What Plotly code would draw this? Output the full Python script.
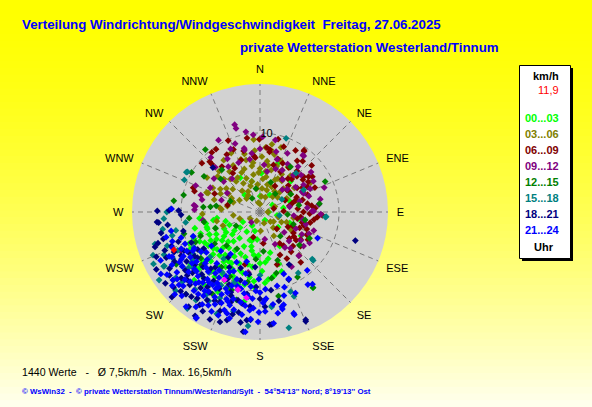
#!/usr/bin/env python
import plotly.graph_objects as go

W, H = 592, 407

# wind direction (deg, 0 = N, clockwise) and speed (km/h) per time band
pts_00_03 = [(240, 7.2), (238, 6.5), (236, 5.5), (234, 4.0), (232, 3.2), (149, 1.2), (223, 10.9), (220, 9.8),
             (217, 8.6), (213, 7.4), (210, 6.5), (205, 5.8), (192, 5.0), (208, 11.4), (204, 10.5), (200, 9.2),
             (196, 8.0), (192, 9.4), (188, 7.0), (90, 1.1), (166, 5.3), (173, 8.6), (145, 11.7), (2, 4.9),
             (101, 2.2), (264, 7.7), (252, 7.0), (250, 6.0), (245, 5.0), (174, 6.4), (190, 11.5), (176, 9.0),
             (168, 8.3), (228, 8.0), (226, 6.5), (222, 5.0), (218, 4.2), (214, 3.0), (230, 9.5), (244, 8.5),
             (248, 9.0), (246, 7.0), (242, 10.0), (236, 9.0), (232, 7.5), (227, 10.5), (224, 12.0), (215, 10.0),
             (211, 9.2), (206, 8.0), (202, 7.0), (198, 6.0), (194, 4.5), (186, 3.5), (182, 5.5), (178, 7.5),
             (260, 6.0), (256, 8.5), (255, 4.5), (240, 2.5), (318, 2.9), (0, 2.0), (30, 2.5), (60, 1.8),
             (80, 3.0), (110, 4.0), (130, 3.0), (150, 5.0), (160, 7.0), (120, 6.0), (100, 5.0), (70, 4.0),
             (45, 5.5), (20, 6.5), (345, 4.0), (330, 5.0), (210, 2.0), (195, 2.5), (200, 3.8), (185, 8.8),
             (219, 7.0), (233, 11.0), (241, 8.0), (239, 5.0), (237, 7.8), (235, 8.6), (233, 6.0), (231, 4.5),
             (229, 7.2), (225, 8.8), (223, 7.5), (221, 6.0), (219, 9.6), (216, 7.8), (212, 8.2), (209, 7.4),
             (207, 9.8), (203, 8.8), (201, 10.5), (199, 7.8), (197, 9.6), (193, 6.8), (189, 8.4), (184, 9.6),
             (180, 6.5), (246, 9.8), (250, 8.0), (254, 7.0), (243, 6.2), (227, 5.5), (213, 5.8), (205, 4.8),
             (196, 3.8), (188, 5.5), (230, 10.8), (218, 11.6), (211, 10.6), (247, 4.2), (258, 7.0), (262, 5.5),
             (170, 6.0), (160, 8.0)]
pts_03_06 = [(355, 9.2), (14, 7.5), (12, 7.8), (10, 6.0), (8, 6.5), (350, 5.9), (352, 6.3), (323, 6.4),
             (310, 7.0), (315, 7.3), (322, 4.9), (297, 6.7), (290, 7.2), (274, 4.9), (276, 5.1), (290, 3.6),
             (292, 3.9), (300, 3.0), (325, 2.6), (352, 3.0), (17, 2.9), (25, 4.5), (28, 4.8), (50, 2.9),
             (45, 3.5), (63, 3.8), (45, 4.2), (133, 1.8), (125, 2.1), (178, 2.4), (236, 1.5), (252, 2.7),
             (263, 3.4), (135, 3.0), (111, 3.6), (60, 7.4), (268, 7.3), (334, 8.3), (340, 7.1), (345, 4.0),
             (5, 4.2), (358, 5.0), (2, 7.0), (20, 6.2), (32, 6.7), (30, 5.5), (40, 6.0), (330, 4.2),
             (318, 5.6), (305, 5.2), (285, 6.0), (280, 4.2), (300, 4.6), (335, 5.5), (345, 7.6), (15, 3.6),
             (350, 1.2), (90, 1.0), (70, 2.0), (200, 1.2), (160, 1.5), (10, 8.7), (325, 8.0), (303, 8.0),
             (295, 5.5), (340, 3.5), (5, 2.0), (35, 3.2), (75, 5.0), (100, 4.3), (55, 5.3), (150, 3.5),
             (120, 4.5), (290, 7.0), (258, 5.6), (250, 5.0), (115, 3.0), (140, 2.6), (105, 2.4), (0, 5.5),
             (355, 3.5), (5, 3.0), (10, 4.5), (15, 5.5), (350, 4.8), (340, 5.8), (330, 6.8), (320, 3.5),
             (310, 4.5), (300, 5.8), (25, 3.5), (35, 4.8), (40, 2.5), (20, 2.0), (360, 1.0), (330, 3.0),
             (315, 2.4), (345, 6.8), (5, 8.2), (18, 8.6), (22, 7.0), (28, 6.0), (8, 5.2), (355, 7.8),
             (338, 4.6), (327, 5.2), (312, 6.2), (296, 4.0), (60, 4.5)]
pts_06_09 = [(36, 9.5), (36, 8.0), (40, 8.4), (54, 7.6), (56, 8.0), (40, 5.5), (44, 5.8), (57, 5.6),
             (60, 6.2), (62, 6.8), (27, 5.7), (16, 6.2), (9, 7.7), (6, 8.2), (355, 6.9), (340, 7.0),
             (337, 8.6), (325, 9.7), (315, 9.0), (321, 9.7), (336, 9.9), (354, 7.1), (359.5, 9.2), (14, 9.5),
             (9, 8.0), (18.5, 7.1), (35.5, 9.6), (33, 6.7), (51, 7.1), (53, 6.8), (51, 4.4), (47, 4.9),
             (75, 4.2), (72, 4.7), (78, 3.8), (80, 6.1), (83, 6.6), (93, 7.9), (95, 7.3), (97, 5.2),
             (100, 4.8), (107, 5.8), (110, 6.3), (113, 4.5), (118, 4.0), (126, 5.3), (128, 5.8), (145, 5.2),
             (148, 4.7), (141, 8.2), (138, 7.4), (162, 7.0), (155, 6.0), (174, 4.0), (195, 3.3), (196, 6.9),
             (76, 1.8), (88, 3.0), (65, 3.5), (30, 3.8), (287.6, 8.7), (290, 9.0), (292, 6.2), (282, 4.2),
             (325, 6.0), (330, 6.4), (314.8, 8.6), (320, 7.5), (135, 3.0), (120, 7.0), (130, 6.7), (102, 6.5),
             (90, 5.5), (68, 5.0), (42, 7.0), (46, 6.5), (48, 8.8), (58, 7.2), (64, 6.0), (66, 7.6), (70, 6.4),
             (74, 5.6), (85, 4.8), (86, 7.0), (92, 6.3), (98, 6.9), (104, 5.5), (112, 5.4), (116, 6.6),
             (122, 5.0), (124, 6.2), (132, 5.0), (136, 6.0), (142, 6.4), (150, 6.8), (25, 6.8), (20, 8.8),
             (30, 9.0), (345, 8.0), (350, 9.5), (330, 8.4), (310, 9.6), (34, 5.0), (55, 4.5)]
pts_09_12 = [(343.8, 11.5), (344, 11.0), (346, 8.1), (346, 8.3), (349, 6.8), (352, 7.5), (340, 9.2),
             (328.5, 7.9), (336.5, 6.8), (330, 10.5), (318, 9.3), (306, 7.2), (310, 6.0), (292.3, 8.8),
             (275.9, 8.4), (275, 8.2), (286, 7.8), (287, 5.1), (272, 8.3), (262, 7.3), (244, 11.2), (37, 9.0),
             (38, 9.0), (30, 7.0), (25, 8.2), (15, 7.9), (5, 6.0), (10, 5.2), (20, 5.8), (45, 4.0), (50, 4.5),
             (64.4, 5.9), (67, 6.0), (69.2, 8.7), (60, 7.8), (82.8, 7.5), (89, 6.8), (89, 6.6), (96, 4.3),
             (100, 5.5), (109, 7.2), (114, 6.8), (122, 7.4), (138.5, 7.4), (125, 6.3), (130, 4.0), (145, 5.5),
             (155, 4.5), (170, 3.5), (191, 7.8), (220, 1.7), (42, 6.3), (55, 5.5), (75, 5.2), (80, 3.8),
             (35, 5.0), (0, 8.0), (355, 9.8), (320, 5.5), (300, 4.8), (65, 7.0), (28, 6.0), (115, 5.0),
             (140, 6.0), (85, 6.0), (150, 8.0), (40, 7.5), (48, 7.0), (58, 6.5), (72, 6.5), (78, 7.8),
             (92, 7.7), (105, 6.0), (118, 6.0), (128, 7.0), (135, 5.2), (12, 9.3), (18, 7.0), (350, 10.3),
             (335, 8.8), (325, 7.0), (315, 8.0), (296, 7.0), (282, 7.5), (2, 9.5), (52, 8.2)]
pts_12_15 = [(318.8, 10.5), (317.9, 7.2), (302.5, 8.4), (282.5, 9.9), (277.4, 11.0), (275, 7.2), (276, 6.3),
             (278, 5.6), (254, 10.0), (231.9, 13.9), (260, 7.2), (248, 8.1), (34, 6.9), (65, 9.1), (82, 7.6),
             (118, 7.1), (145, 11.7), (167.6, 10.9), (165, 8.0), (170, 8.5), (150, 9.5), (130, 6.5), (100, 5.8),
             (95, 3.5), (60, 4.5), (40, 3.0), (20, 4.0), (350, 3.0), (330, 2.0), (290, 4.0), (240, 3.5),
             (225, 6.0), (215, 8.5), (205, 9.0), (232, 9.5), (220, 11.0), (210, 12.0), (200, 10.5), (190, 9.0),
             (238, 12.5), (228, 10.0), (245, 9.0), (212, 5.5), (185, 6.0), (175, 5.0), (160, 6.5), (140, 4.0),
             (110, 4.5), (80, 5.0), (300, 10.0), (310, 6.5), (265, 9.0), (250, 6.0), (195, 11.5), (235, 7.0)]
pts_15_18 = [(270, 11.8), (272, 11.3), (257.6, 10.9), (253, 13.9), (246, 13.3), (240.5, 13.9), (240.6, 14.0),
             (224, 16.3), (217, 15.3), (227, 14.6), (299, 10.5), (293, 10.4), (298.4, 10.6), (19.5, 9.9),
             (42.9, 6.7), (63, 6.2), (94.4, 8.3), (94, 8.4), (132.3, 9.1), (132, 8.9), (147.9, 9.1), (158, 11.5),
             (159, 10.8), (166, 15.1), (173, 12.1), (173, 12.0), (230, 11.0), (235, 12.0), (225, 12.5),
             (220, 10.0), (215, 11.5), (210, 13.0), (205, 12.0), (200, 9.5), (228, 8.5), (238, 10.0),
             (245, 11.5), (250, 9.0), (262, 9.5), (218, 7.5), (212, 9.0), (195, 13.0), (186, 14.5), (180, 8.0),
             (100, 2.5), (60, 3.2), (232, 13.5), (242, 12.5), (222, 14.0), (208, 10.5), (250, 12.5),
             (248, 14.6), (244, 15.0), (236, 15.4), (232, 11.5), (228, 13.2), (220, 12.8), (213, 12.5),
             (203, 14.0), (255, 11.5), (260, 12.5), (266, 12.2), (242, 9.5), (234, 10.5), (226, 9.8), (216, 13.8)]
pts_18_21 = [(270.6, 13.0), (264.4, 13.1), (264, 12.9), (271, 11.5), (268, 10.0), (271, 10.3), (254.4, 12.7),
             (251.6, 14.0), (246.6, 14.3), (240.5, 10.4), (223.7, 16.3), (197, 14.3), (190, 14.2), (188, 15.3),
             (185, 13.7), (157.3, 15.0), (157, 14.8), (174, 14.3), (175, 14.3), (157, 9.3), (151, 7.6),
             (106.7, 12.6), (313.3, 8.2), (245, 12.0), (243, 10.8), (240, 12.5), (238, 13.5), (236, 11.2),
             (234, 9.8), (232, 12.0), (230, 13.0), (228, 11.5), (226, 10.0), (224, 12.8), (222, 14.0),
             (220, 11.0), (218, 12.2), (216, 13.5), (214, 10.5), (212, 12.0), (210, 14.5), (208, 11.0),
             (206, 9.5), (204, 12.5), (202, 13.5), (200, 10.8), (198, 12.0), (196, 9.0), (194, 11.5),
             (192, 13.0), (189, 10.5), (186, 12.0), (183, 9.5), (180, 11.0), (177, 12.0), (172, 10.0),
             (168, 11.5), (246, 9.5), (250, 11.0), (248, 13.0), (256, 10.0), (237, 8.5), (229, 14.5),
             (217, 15.0), (212, 15.5), (205, 15.0), (200, 14.8), (233, 15.0), (226, 15.5), (241, 15.0),
             (219, 9.0), (209, 8.0), (199, 7.5), (215, 7.0), (190, 8.0), (185, 7.0), (244, 13.2), (241, 11.4),
             (239, 9.2), (235, 14.0), (231, 10.6), (227, 12.6), (223, 10.8), (219, 13.8), (215, 11.6),
             (211, 13.0), (207, 12.6), (203, 10.0), (199, 11.2), (195, 13.4), (191, 11.8), (187, 13.8),
             (249, 12.0), (253, 13.5), (258, 12.8), (262, 11.8), (236, 10.0), (225, 14.2), (213, 14.0),
             (221, 9.5), (229, 12.2)]
pts_21_24 = [(220.3, 16.5), (211, 15.6), (202, 14.1), (185, 13.6), (180.6, 12.7), (177, 11.2), (178, 11.5),
             (176, 11.0), (167, 12.3), (167, 12.6), (161.5, 13.7), (156.4, 11.2), (156.7, 9.2), (146.6, 11.0),
             (141, 9.5), (159, 8.4), (167, 9.6), (114.4, 8.0), (251.5, 11.7), (272, 11.2), (144, 11.3),
             (161.6, 13.5), (165.7, 12.1), (177, 12.6), (181, 13.9), (187, 15.3), (173, 14.2), (220, 16.4),
             (211, 15.7), (228, 13.8), (245, 11.0), (243, 12.5), (241, 9.5), (239, 13.0), (237, 10.5),
             (235, 12.0), (233, 8.5), (231, 13.5), (229, 11.0), (227, 9.5), (225, 12.5), (223, 14.5),
             (221, 10.0), (219, 11.5), (217, 13.0), (215, 9.0), (213, 12.0), (211, 10.5), (209, 13.5),
             (207, 8.5), (205, 11.5), (203, 12.5), (201, 10.0), (199, 9.0), (197, 11.5), (195, 12.8),
             (193, 8.0), (191, 10.5), (189, 12.0), (187, 9.5), (185, 11.0), (183, 10.0), (181, 8.5),
             (230, 14.5), (226, 15.0), (218, 15.2), (214, 14.5), (206, 14.0), (198, 13.5), (235, 7.5),
             (225, 7.0), (215, 6.5), (205, 7.0), (195, 6.5), (240, 11.2), (236, 9.0), (232, 10.2), (228, 12.8),
             (224, 11.3), (220, 13.0), (216, 11.0), (212, 9.8), (208, 12.2), (204, 10.6), (200, 12.0),
             (196, 10.2), (192, 11.7), (250, 9.0), (248, 12.0), (244, 14.0), (238, 14.8), (242, 10.5),
             (238, 12.0), (234, 13.0), (230, 11.8), (226, 13.5), (222, 12.2), (218, 10.8), (214, 12.8),
             (210, 11.2), (206, 13.0), (202, 11.0), (198, 12.4), (194, 10.0), (190, 13.2), (186, 12.5),
             (244, 12.8), (240, 9.8), (236, 14.2), (232, 14.0), (228, 9.0), (224, 9.8), (220, 8.5), (216, 9.6),
             (212, 13.8), (208, 9.2), (204, 8.2), (200, 13.2), (196, 14.0), (192, 9.2), (188, 10.8),
             (184, 12.2), (180, 10.2), (176, 9.8), (172, 11.8), (170, 13.0), (164, 11.0), (162, 10.0),
             (247, 10.3), (252, 10.5), (255, 12.3), (258, 11.5), (233, 10.8), (221, 11.8), (209, 10.8),
             (197, 9.8), (227, 11.0), (213, 11.0), (201, 11.8), (239, 11.6), (215, 12.2)]
pts_latest = [(207.7, 9.7), (195.8, 10.2), (189, 11.0)]
pts_current = [(246.3, 11.9)]

band_labels = ["00...03", "03...06", "06...09", "09...12", "12...15", "15...18", "18...21", "21...24"]
band_colors = ["#00FF00", "#808000", "#800000", "#800080", "#008000", "#008080", "#000080", "#0000FF"]
band_points = [pts_00_03, pts_03_06, pts_06_09, pts_09_12, pts_12_15, pts_15_18, pts_18_21, pts_21_24]

compass = ["N", "NNE", "NE", "ENE", "E", "ESE", "SE", "SSE",
           "S", "SSW", "SW", "WSW", "W", "WNW", "NW", "NNW"]
compass_deg = [i * 22.5 for i in range(16)]

current_speed = "11,9"
summary = "1440 Werte   -   Ø 7,5km/h  -  Max. 16,5km/h"
footer = "© WsWin32  -  © private Wetterstation Tinnum/Westerland/Sylt  -  54°54'13'' Nord; 8°19'13'' Ost"
title1 = "Verteilung Windrichtung/Windgeschwindigkeit  Freitag, 27.06.2025"
title2 = "private Wetterstation Westerland/Tinnum"


def fx(px):
    return px / W


def fy(py):
    return 1 - py / H


def nb(s):
    return s.replace(" ", "\u00a0")


fig = go.Figure()

msize = 5.2
for pts, col in zip(band_points, band_colors):
    fig.add_trace(go.Scatterpolar(theta=[p[0] for p in pts], r=[p[1] for p in pts], mode="markers",
                                  marker=dict(symbol="diamond", size=msize, color=col, line=dict(width=0)),
                                  showlegend=False, hoverinfo="skip"))
fig.add_trace(go.Scatterpolar(theta=[p[0] for p in pts_latest], r=[p[1] for p in pts_latest], mode="markers",
                              marker=dict(symbol="diamond", size=msize, color="#FF00FF", line=dict(width=0)),
                              showlegend=False, hoverinfo="skip"))
fig.add_trace(go.Scatterpolar(theta=[p[0] for p in pts_current], r=[p[1] for p in pts_current], mode="markers",
                              marker=dict(symbol="diamond", size=msize, color="#FF0000", line=dict(width=0)),
                              showlegend=False, hoverinfo="skip"))

# background gradient yellow -> pale
shapes = []
n = 60
for i in range(n):
    t = (i + 0.5) / n
    b = int(240 * t ** 1.6)
    shapes.append(dict(type="rect", xref="paper", yref="paper", x0=0, x1=1,
                       y0=1 - i / n, y1=1 - (i + 1) / n - 0.002, line=dict(width=0),
                       fillcolor="rgb(255,255,%d)" % b, layer="below"))

# legend box with shadow
shapes.append(dict(type="rect", xref="paper", yref="paper", x0=fx(522), x1=fx(573), y0=fy(68), y1=fy(261),
                   line=dict(width=0), fillcolor="black"))
shapes.append(dict(type="rect", xref="paper", yref="paper", x0=fx(519.5), x1=fx(570.5), y0=fy(65.5),
                   y1=fy(258.5), line=dict(width=1, color="black"), fillcolor="white"))

ann = []
ann.append(dict(text="<b>" + nb(title1) + "</b>", x=fx(20), y=fy(24), xanchor="left", yanchor="middle",
                font=dict(family="Arial", size=13.3, color="#0000FF")))
ann.append(dict(text="<b>" + nb(title2) + "</b>", x=fx(238), y=fy(48), xanchor="left", yanchor="middle",
                font=dict(family="Arial", size=13.3, color="#0000FF")))
ann.append(dict(text="<b>km/h</b>", x=fx(546), y=fy(76), xanchor="center", yanchor="middle",
                font=dict(family="Arial", size=11, color="black")))
ann.append(dict(text=current_speed, x=fx(561), y=fy(90), xanchor="right", yanchor="middle",
                font=dict(family="Arial", size=11, color="#FF0000")))
for k, (lab, col) in enumerate(zip(band_labels, band_colors)):
    ann.append(dict(text="<b>" + lab + "</b>", x=fx(542), y=fy(117.7 + k * 16.0), xanchor="center",
                    yanchor="middle", font=dict(family="Arial", size=11, color=col)))
ann.append(dict(text="<b>Uhr</b>", x=fx(544), y=fy(246.5), xanchor="center", yanchor="middle",
                font=dict(family="Arial", size=11, color="black")))
ann.append(dict(text=nb(summary), x=fx(20), y=fy(372), xanchor="left", yanchor="middle",
                font=dict(family="Arial", size=10.6, color="black")))
ann.append(dict(text="<b>" + nb(footer) + "</b>", x=fx(20), y=fy(391), xanchor="left", yanchor="middle",
                font=dict(family="Arial", size=7.85, color="#0000FF")))
for a in ann:
    a.update(xref="paper", yref="paper", showarrow=False)

grid_col = "#7A7A7A"
fig.update_layout(
    width=W, height=H, autosize=False,
    margin=dict(l=0, r=0, t=0, b=0),
    paper_bgcolor="#FFFFC0",
    shapes=shapes,
    annotations=ann,
    polar=dict(
        domain=dict(x=[fx(132), fx(388)], y=[fy(340), fy(84)]),
        bgcolor="#D2D2D2",
        angularaxis=dict(direction="clockwise", rotation=90, tickmode="array",
                         tickvals=compass_deg, ticktext=compass, showgrid=True,
                         gridcolor=grid_col, griddash="5px,4px", gridwidth=1, showline=False,
                         ticks="outside", ticklen=6, tickcolor="rgba(0,0,0,0)",
                         tickfont=dict(family="Arial", size=11, color="black")),
        radialaxis=dict(range=[0, 16.2], tickmode="array", tickvals=[10], ticktext=["10"], angle=90,
                        tickangle=90, side="clockwise", showline=False, showgrid=True, gridcolor=grid_col,
                        griddash="5px,4px", ticks="", tickfont=dict(family="Arial", size=11, color="black")),
    ),
)

fig.write_html("out.html", config={"displayModeBar": False},
               post_script="document.body.style.margin='0px';")
